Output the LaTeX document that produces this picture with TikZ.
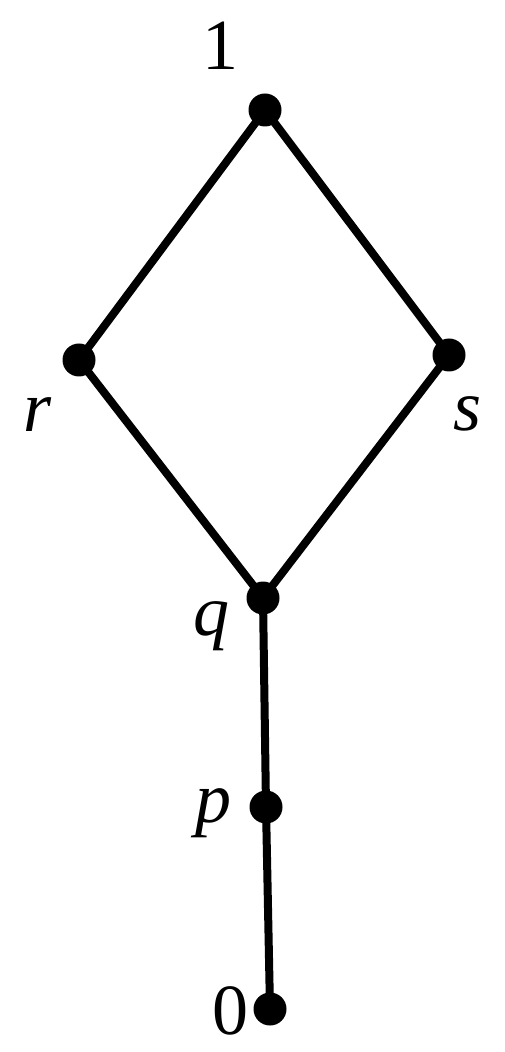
\documentclass[tikz,border=0pt]{standalone}
\usepackage{fontspec}
\setmainfont{Liberation Serif}[ItalicFont={Liberation Serif Italic}]
\usepackage{tikz}
\usetikzlibrary{positioning, calc}
\tikzset{
    elt/.style={circle, fill=black, inner sep=0pt, minimum size=16.5pt},
    lbl/.style={anchor=base, inner sep=0pt, font=\fontsize{36}{40}\selectfont}
}
\begin{document}
\begin{tikzpicture}[x=0.5pt, y=-0.5pt, line width=4pt]
                \useasboundingbox (0,0) rectangle (504,1052);
                \node[elt] (one) at (265,110) {};
                \node[elt] (r) at (79,360) {};
                \node[elt] (s) at (449,355) {};
                \node[elt] (q) at (263,598) {};
                \node[elt] (p) at (266,807) {};
                \node[elt] (zero) at (270,1009) {};
                \draw (one.center) -- (r.center) -- (q.center) -- (s.center) -- (one.center);
                \draw (q.center) -- (p.center) -- (zero.center);
                \node[lbl] (lone) at (220,70) {1};
                \node[lbl] (lr) at (38,432) {\textit{r}};
                \node[lbl] (ls) at (467,430) {\textit{s}};
                \node[lbl] (lq) at (211,635) {\textit{q}};
                \node[lbl] (lp) at (213,822) {\textit{p}};
                \node[lbl] (lzero) at (230,1034) {0};
\end{tikzpicture}
\end{document}
